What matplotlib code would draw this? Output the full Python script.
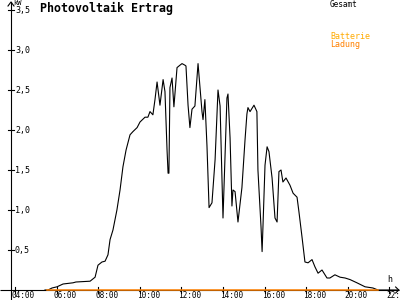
import numpy as np
import matplotlib
matplotlib.use("Agg")
import matplotlib.pyplot as plt

# Gesamt (kW) over time of day (h)
hours = [5.44, 5.59, 5.78, 6.02, 6.31, 6.79, 6.93, 7.61, 7.85, 7.99,
         8.18, 8.33, 8.47, 8.57, 8.71, 8.90, 9.05, 9.19, 9.34, 9.53,
         9.67, 9.87, 10.01, 10.25, 10.39, 10.49, 10.63, 10.73, 10.83, 10.97,
         11.12, 11.21, 11.31, 11.36, 11.40, 11.45, 11.55, 11.64, 11.79, 11.93,
         12.03, 12.17, 12.22, 12.32, 12.41, 12.51, 12.65, 12.80, 12.99, 13.04,
         13.13, 13.23, 13.33, 13.47, 13.62, 13.76, 13.86, 14.00, 14.19, 14.24,
         14.34, 14.43, 14.48, 14.58, 14.72, 14.91, 15.06, 15.15, 15.20, 15.30,
         15.49, 15.63, 15.68, 15.83, 15.88, 15.92, 16.02, 16.12, 16.21, 16.36,
         16.50, 16.60, 16.69, 16.79, 16.88, 17.03, 17.22, 17.37, 17.56, 17.65,
         17.80, 17.94, 18.09, 18.28, 18.42, 18.57, 18.76, 19.00, 19.14, 19.38,
         19.63, 19.87, 20.11, 20.44, 20.83, 21.21, 21.45, 22.45]
gesamt = [0.0, 0.0, 0.025, 0.04, 0.075, 0.09, 0.10, 0.11, 0.16, 0.31,
          0.35, 0.36, 0.44, 0.63, 0.75, 1.00, 1.25, 1.54, 1.75, 1.94,
          1.98, 2.03, 2.10, 2.16, 2.16, 2.23, 2.19, 2.38, 2.60, 2.31,
          2.63, 2.48, 1.75, 1.46, 1.46, 2.53, 2.65, 2.29, 2.78, 2.81,
          2.83, 2.81, 2.80, 2.31, 2.03, 2.26, 2.30, 2.83, 2.23, 2.13,
          2.38, 1.80, 1.03, 1.09, 1.63, 2.50, 2.30, 0.90, 2.40, 2.45,
          1.90, 1.05, 1.25, 1.23, 0.85, 1.28, 1.88, 2.20, 2.28, 2.23,
          2.31, 2.23, 1.50, 0.78, 0.48, 0.78, 1.56, 1.79, 1.73, 1.40,
          0.90, 0.85, 1.48, 1.50, 1.35, 1.40, 1.31, 1.21, 1.16, 0.98,
          0.66, 0.35, 0.34, 0.38, 0.29, 0.21, 0.25, 0.15, 0.15, 0.19,
          0.16, 0.15, 0.13, 0.09, 0.04, 0.025, 0.0, 0.0]

# Batterie Ladung (kW)
batt_hours = [5.55, 21.45]
batt_ladung = [0.0, 0.0]

y_ticks = [0.5, 1.0, 1.5, 2.0, 2.5, 3.0, 3.5]
y_labels = ["0,5", "1,0", "1,5", "2,0", "2,5", "3,0", "3,5"]
x_ticks = [4, 6, 8, 10, 12, 14, 16, 18, 20, 22]
x_labels = ["04:00", "06:00", "08:00", "10:00", "12:00", "14:00",
            "16:00", "18:00", "20:00", "22:"]

mono = "DejaVu Sans Mono"
LW = 0.8

fig = plt.figure(figsize=(4, 3), dpi=100)
ax = fig.add_axes([0, 0, 1, 1])
ax.set_xlim(3.279, 22.51)
ax.set_ylim(-0.125, 3.625)
ax.axis("off")

px = 1 / 20.8   # one pixel in hours
py = 1 / 80.0   # one pixel in kW
y_axis_x = 4 - 4 * px

# axes with arrows
ax.plot([3.279, 22.45], [0, 0], color="black", lw=LW, solid_capstyle="butt")
ax.plot([22.3, 22.45, 22.3], [3 * py, 0, -3 * py], color="black", lw=LW)
ax.plot([y_axis_x, y_axis_x], [-0.125, 3.6], color="black", lw=LW)
ax.plot([y_axis_x - 3 * px, y_axis_x, y_axis_x + 3 * px],
        [3.55, 3.6, 3.55], color="black", lw=LW)

for v, lab in zip(y_ticks, y_labels):
    ax.plot([y_axis_x - 3 * px, y_axis_x + 3 * px], [v, v], color="black", lw=LW)
    ax.text(y_axis_x + 4 * px, v, lab, fontsize=6, family=mono,
            ha="left", va="center")

for h, lab in zip(x_ticks, x_labels):
    ax.plot([h, h], [-3 * py, 3 * py], color="black", lw=LW)
    ax.text(h - 3 * px, -1.5 * py, lab, fontsize=5.6, family=mono,
            ha="left", va="top")

ax.text(y_axis_x + 2 * px, 3.62, "kW", fontsize=5, family=mono,
        ha="left", va="top")
ax.text(22.0, 6 * py, "h", fontsize=6, family=mono, ha="center", va="bottom")

# data
ax.plot(hours, gesamt, color="black", lw=LW)
ax.plot(batt_hours, batt_ladung, color="#ff8000", lw=1.1)

# title and legend
ax.text(4 + 25 * px, 3.6, "Photovoltaik Ertrag", fontsize=8.4,
        family=mono, weight="bold", ha="left", va="top")
ax.text(4 + 315 * px, 3.62, "Gesamt", fontsize=5.6, family=mono,
        ha="left", va="top")
ax.text(4 + 315 * px, 3.625 - 32 * py, "Batterie", fontsize=6,
        family=mono, color="#ffaa00", ha="left", va="top")
ax.text(4 + 315 * px, 3.625 - 40 * py, "Ladung", fontsize=6,
        family=mono, color="#ff8000", ha="left", va="top")

fig.savefig("out.png", dpi=100)
